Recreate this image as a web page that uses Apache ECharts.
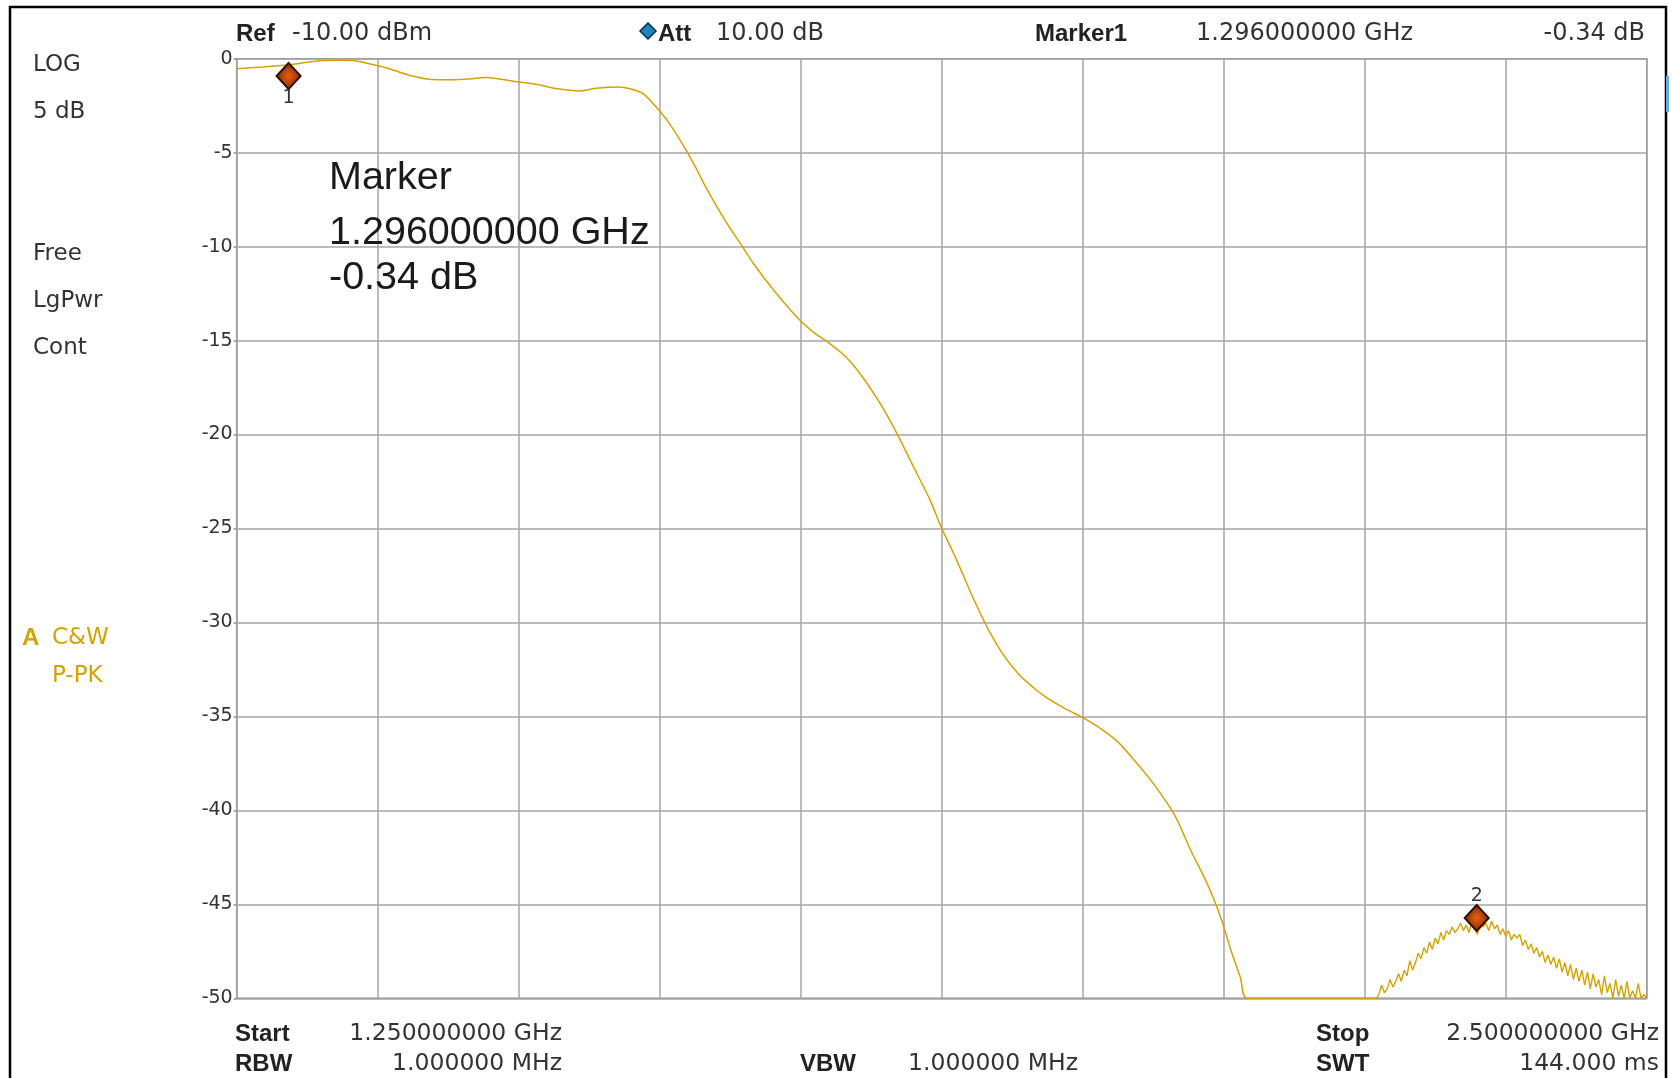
<!DOCTYPE html>
<html>
<head>
<meta charset="utf-8">
<script src="https://cdn.jsdelivr.net/npm/echarts@6/dist/echarts.min.js"></script>
<style>
  html, body { margin: 0; padding: 0; background: #ffffff; }
  #chart { width: 1673px; height: 1078px; }
</style>
</head>
<body>
<div id="chart"></div>
<script>
// ---- data (frequency in GHz, level in dB) ----
const freqSmooth = [1.250, 1.273, 1.2966, 1.3114, 1.3262, 1.340, 1.3528, 1.3676, 1.3823, 1.403, 1.4237, 1.440, 1.4562, 1.471, 1.4858, 1.5005, 1.5153, 1.5331, 1.5537, 1.5685, 1.5892, 1.598, 1.6099, 1.6217, 1.6335, 1.6483, 1.657, 1.6669, 1.6845, 1.6978, 1.7081, 1.7258, 1.7465, 1.7612, 1.773, 1.7863, 1.7951, 1.8054, 1.8202, 1.835, 1.8497, 1.8644, 1.8748, 1.888, 1.9014, 1.9157, 1.930, 1.944, 1.9562, 1.968, 1.9828, 2.000, 2.0124, 2.0302, 2.045, 2.0598, 2.0746, 2.0835, 2.0954, 2.1072, 2.1161, 2.1235, 2.1309, 2.1398, 2.1457, 2.200, 2.2606];
const levelSmooth = [-0.53, -0.44, -0.32, -0.20, -0.10, -0.08, -0.10, -0.27, -0.48, -0.88, -1.11, -1.12, -1.08, -1.00, -1.11, -1.24, -1.36, -1.59, -1.72, -1.57, -1.50, -1.59, -1.85, -2.56, -3.44, -4.85, -5.80, -6.95, -8.75, -9.95, -10.9, -12.3, -13.75, -14.55, -15.04, -15.66, -16.19, -16.99, -18.32, -19.91, -21.68, -23.45, -24.96, -26.64, -28.5, -30.3, -31.75, -32.8, -33.46, -34.0, -34.53, -35.06, -35.5, -36.3, -37.28, -38.35, -39.59, -40.48, -42.08, -43.5, -44.7, -45.9, -47.35, -48.9, -50.0, -50.0, -50.0];

const freqNoisy = [2.2606, 2.2625, 2.2650, 2.2675, 2.2700, 2.2725, 2.2750, 2.2775, 2.2800, 2.2825, 2.2850, 2.2875, 2.2900, 2.2925, 2.2950, 2.2975, 2.3000, 2.3025, 2.3050, 2.3075, 2.3100, 2.3125, 2.3150, 2.3175, 2.3200, 2.3225, 2.3250, 2.3275, 2.3300, 2.3325, 2.3350, 2.3375, 2.3400, 2.3425, 2.3450, 2.3475, 2.3500, 2.3525, 2.3550, 2.3575, 2.3600, 2.3625, 2.3650, 2.3675, 2.3700, 2.3725, 2.3750, 2.3775, 2.3800, 2.3825, 2.3850, 2.3875, 2.3900, 2.3925, 2.3950, 2.3975, 2.4000, 2.4025, 2.4050, 2.4075, 2.4100, 2.4125, 2.4150, 2.4175, 2.4200, 2.4225, 2.4250, 2.4275, 2.4300, 2.4325, 2.4350, 2.4375, 2.4400, 2.4425, 2.4450, 2.4475, 2.4500, 2.4525, 2.4550, 2.4575, 2.4600, 2.4625, 2.4650, 2.4675, 2.4700, 2.4725, 2.4750, 2.4775, 2.4800, 2.4825, 2.4850, 2.4875, 2.4900, 2.4925, 2.4950, 2.4975, 2.5000];
const levelNoisy = [-50.0, -49.8, -49.3, -49.7, -49.5, -49.0, -49.4, -49.1, -48.7, -49.1, -48.5, -48.8, -48.0, -48.5, -48.1, -47.6, -47.9, -47.3, -47.6, -47.0, -47.4, -46.8, -47.1, -46.5, -46.9, -46.4, -46.6, -46.2, -46.5, -46.3, -46.0, -46.4, -46.1, -46.5, -45.9, -46.3, -46.6, -45.9, -46.2, -46.0, -46.4, -45.9, -46.3, -46.1, -46.6, -46.3, -46.7, -46.4, -46.9, -46.6, -46.8, -46.6, -47.2, -46.9, -47.4, -47.1, -47.6, -47.3, -47.8, -47.5, -48.1, -47.7, -48.2, -47.8, -48.4, -47.9, -48.6, -48.1, -48.8, -48.2, -49.0, -48.4, -49.1, -48.5, -49.3, -48.6, -49.5, -48.7, -49.4, -49.0, -49.8, -48.8, -49.7, -49.2, -50.0, -49.0, -49.9, -49.3, -50.0, -49.1, -50.0, -49.6, -50.0, -49.2, -50.0, -49.8, -50.0];

const yTicks = [0, -5, -10, -15, -20, -25, -30, -35, -40, -45, -50];
const marker1 = [1.296, -0.34];
const marker2 = [2.3493, -46.1];

const smoothData = freqSmooth.map((f, i) => [f, levelSmooth[i]]);
const noisyData = freqNoisy.map((f, i) => [f, levelNoisy[i]]);

// ---- chart ----
const chart = echarts.init(document.getElementById('chart'), null, { renderer: 'canvas' });
const GOLD = '#D6A300';
const TXT = '#333333';
const REG = '"DejaVu Sans", Verdana, sans-serif';
const BOLD = '"Liberation Sans", Arial, sans-serif';

function txt(x, y, text, opts) {
  opts = opts || {};
  return {
    type: 'text', silent: true, z: 100,
    style: {
      x: x, y: y, text: text,
      fill: opts.fill || TXT,
      font: opts.font || ('24px ' + REG),
      align: opts.align || 'left',
      verticalAlign: 'middle'
    }
  };
}

const diamondGrad = new echarts.graphic.RadialGradient(0.5, 0.5, 0.6, [
  { offset: 0, color: '#E8600E' },
  { offset: 1, color: '#6E1E00' }
]);

const option = {
  backgroundColor: '#ffffff',
  animation: false,
  grid: { left: 236.7, right: 26.3, top: 58.7, bottom: 79.7, show: true, borderColor: '#8c8c8c', borderWidth: 1.5, backgroundColor: '#ffffff' },
  xAxis: {
    type: 'value', min: 1.25, max: 2.5, interval: 0.125,
    axisLine: { show: false }, axisTick: { show: false }, axisLabel: { show: false },
    splitLine: { show: true, lineStyle: { color: '#a6a6a6', width: 1.5 } }
  },
  yAxis: {
    type: 'value', min: -50, max: 0, interval: 5,
    axisLine: { show: false },
    axisTick: { show: true, length: 3, lineStyle: { color: '#8c8c8c', width: 1.5 } },
    axisLabel: { color: TXT, fontFamily: REG, fontSize: 19, margin: 4,
      formatter: v => (yTicks.indexOf(v) >= 0 ? String(v) : '') },
    splitLine: { show: true, lineStyle: { color: '#a6a6a6', width: 1.5 } }
  },
  series: [{
    type: 'line', data: smoothData, showSymbol: false, clip: true,
    smooth: 0.3,
    lineStyle: { color: GOLD, width: 1.5 },
    markPoint: {
      symbol: 'diamond', symbolSize: [24, 26],
      itemStyle: { color: diamondGrad, borderColor: '#2a1000', borderWidth: 2 },
      label: { show: true, color: TXT, fontFamily: REG, fontSize: 19 },
      data: [
        { coord: marker1, symbolOffset: [0, 11], label: { formatter: '1', position: 'bottom', distance: -2 } }
      ]
    }
  }, {
    type: 'line', data: noisyData, showSymbol: false, clip: true,
    lineStyle: { color: GOLD, width: 1.4 },
    markPoint: {
      symbol: 'diamond', symbolSize: [24, 26],
      itemStyle: { color: diamondGrad, borderColor: '#2a1000', borderWidth: 2 },
      label: { show: true, color: TXT, fontFamily: REG, fontSize: 19 },
      data: [
        { coord: marker2, symbolOffset: [0, -7], label: { formatter: '2', position: 'top', distance: -2 } }
      ]
    }
  }],
  graphic: [
    // outer frame
    { type: 'rect', silent: true, z: 0, shape: { x: 10, y: 7, width: 1656, height: 1080 },
      style: { fill: 'none', stroke: '#000000', lineWidth: 2.5 } },
    { type: 'rect', silent: true, z: 1, shape: { x: 1666, y: 76, width: 3, height: 36 },
      style: { fill: '#6aaee0' } },
    // header
    txt(236, 34, 'Ref', { font: 'bold 24px ' + BOLD, fill: '#222' }),
    txt(292, 34, '-10.00 dBm'),
    { type: 'polygon', silent: true, z: 100, shape: { points: [[648, 23], [656, 31], [648, 39], [640, 31]] },
      style: { fill: '#1f84c6', stroke: '#0b2b44', lineWidth: 1.5 } },
    txt(658, 34, 'Att', { font: 'bold 24px ' + BOLD, fill: '#222' }),
    txt(716, 34, '10.00 dB'),
    txt(1035, 34, 'Marker1', { font: 'bold 24px ' + BOLD, fill: '#222' }),
    txt(1196, 34, '1.296000000 GHz'),
    txt(1645, 34, '-0.34 dB', { align: 'right' }),
    // left info
    txt(33, 65, 'LOG', { font: '23px ' + REG }),
    txt(33, 112, '5 dB', { font: '23px ' + REG }),
    txt(33, 254, 'Free', { font: '23px ' + REG }),
    txt(33, 301, 'LgPwr', { font: '23px ' + REG }),
    txt(33, 348, 'Cont', { font: '23px ' + REG }),
    txt(22, 638, 'A', { font: 'bold 24px ' + BOLD, fill: GOLD }),
    txt(52, 638, 'C&W', { font: '23px ' + REG, fill: GOLD }),
    txt(52, 676, 'P-PK', { font: '23px ' + REG, fill: GOLD }),
    // marker readout
    txt(329, 178, 'Marker', { font: '39.5px ' + BOLD, fill: '#1a1a1a' }),
    txt(329, 233, '1.296000000 GHz', { font: '39.5px ' + BOLD, fill: '#1a1a1a' }),
    txt(329, 278, '-0.34 dB', { font: '39.5px ' + BOLD, fill: '#1a1a1a' }),
    // footer
    txt(235, 1034, 'Start', { font: 'bold 24px ' + BOLD, fill: '#222' }),
    txt(562, 1034, '1.250000000 GHz', { align: 'right', font: '23.5px ' + REG }),
    txt(235, 1064, 'RBW', { font: 'bold 24px ' + BOLD, fill: '#222' }),
    txt(562, 1064, '1.000000 MHz', { align: 'right', font: '23.5px ' + REG }),
    txt(800, 1064, 'VBW', { font: 'bold 24px ' + BOLD, fill: '#222' }),
    txt(1078, 1064, '1.000000 MHz', { align: 'right', font: '23.5px ' + REG }),
    txt(1316, 1034, 'Stop', { font: 'bold 24px ' + BOLD, fill: '#222' }),
    txt(1659, 1034, '2.500000000 GHz', { align: 'right', font: '23.5px ' + REG }),
    txt(1316, 1064, 'SWT', { font: 'bold 24px ' + BOLD, fill: '#222' }),
    txt(1659, 1064, '144.000 ms', { align: 'right', font: '23.5px ' + REG })
  ]
};
chart.setOption(option);
</script>
</body>
</html>
